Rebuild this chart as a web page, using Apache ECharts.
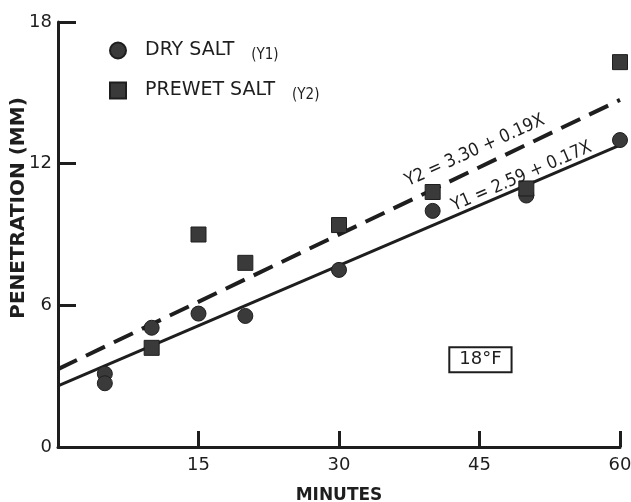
<!DOCTYPE html>
<html><head><meta charset="utf-8">
<script src="https://cdn.jsdelivr.net/npm/echarts@6/dist/echarts.min.js"></script>
<style>html,body{margin:0;padding:0;background:#fff}#c{width:631px;height:502px}</style>
</head><body><div id="c"></div>
<script>
// Data
const dryMinutes = [5, 5, 10, 15, 20, 30, 40, 50, 60];
const dryValues  = [3.1, 2.7, 5.05, 5.65, 5.55, 7.5, 10.0, 10.65, 13.0];
const wetMinutes = [10, 15, 20, 30, 40, 50, 60];
const wetValues  = [4.2, 9.0, 7.8, 9.4, 10.8, 10.95, 16.3];
const dryFitX = [0, 60];
const dryFitY = [2.59, 12.79];
const wetFitX = [0, 60];
const wetFitY = [3.30, 14.70];
const xTicks = [0, 15, 30, 45, 60];
const yTicks = [0, 6, 12, 18];
const seriesNames = ['DRY SALT', 'PREWET SALT'];
const seriesTags = ['(Y1)', '(Y2)'];
const eqDry = 'Y1 = 2.59 + 0.17X';
const eqWet = 'Y2 = 3.30 + 0.19X';
const tempLabel = '18°F';

const zip = (a, b) => a.map((v, i) => [v, b[i]]);
const ink = '#1e1e1e';
const mark = '#3a3a3a';
const font = 'DejaVu Sans';

const chart = echarts.init(document.getElementById('c'), null, {renderer: 'canvas'});
const option = {
  animation: false,
  backgroundColor: '#fff',
  grid: {left: 58, right: 11, top: 22, bottom: 55, containLabel: false, outerBoundsMode: 'none'},
  legend: {
    orient: 'vertical', left: 104, top: 36, itemWidth: 16, itemHeight: 16, itemGap: 18,
    selectedMode: false,
    data: [{name: seriesNames[0], icon: 'circle'}, {name: seriesNames[1], icon: 'rect'}],
    formatter: function (n) {
      const i = seriesNames.indexOf(n);
      return '{s|}{a|' + n + '}{g|}{b|' + seriesTags[i] + '}';
    },
    textStyle: {
      color: ink, fontFamily: font,
      rich: {
        s: {width: 14},
        a: {fontSize: 19, fontFamily: font, color: ink},
        g: {width: 17},
        b: {fontSize: 15, fontFamily: 'DejaVu Sans Condensed', color: ink, padding: [10, 0, 0, 0]}
      }
    }
  },
  xAxis: {
    type: 'value', min: 0, max: 60, interval: 15,
    name: 'MINUTES', nameLocation: 'middle', nameGap: 40,
    nameTextStyle: {fontFamily: font, fontWeight: 'bold', fontSize: 17, color: ink},
    axisLine: {show: true, onZero: false, lineStyle: {color: ink, width: 3}},
    axisTick: {show: true, inside: true, length: 16, lineStyle: {color: ink, width: 3}},
    splitLine: {show: false},
    axisLabel: {fontFamily: font, fontSize: 18, color: ink, margin: 9,
      formatter: v => (v === 0 ? '' : String(v))}
  },
  yAxis: {
    type: 'value', min: 0, max: 18, interval: 6,
    axisLine: {show: true, onZero: false, lineStyle: {color: ink, width: 3}},
    axisTick: {show: true, inside: true, length: 18, lineStyle: {color: ink, width: 3}},
    splitLine: {show: false},
    axisLabel: {fontFamily: font, fontSize: 18, color: ink, margin: 6}
  },
  series: [
    {type: 'line', name: 'fitDry', data: zip(dryFitX, dryFitY), symbol: 'none', z: 2,
      lineStyle: {color: ink, width: 3}},
    {type: 'line', name: 'fitWet', data: zip(wetFitX, wetFitY), symbol: 'none', z: 2,
      lineStyle: {color: ink, width: 4, type: [21, 10]}},
    {type: 'scatter', name: seriesNames[0], data: zip(dryMinutes, dryValues), symbol: 'circle',
      symbolSize: 15, z: 3, itemStyle: {color: mark, borderColor: ink, borderWidth: 1, opacity: 1}},
    {type: 'scatter', name: seriesNames[1], data: zip(wetMinutes, wetValues), symbol: 'rect',
      symbolSize: 15, z: 3, itemStyle: {color: mark, borderColor: ink, borderWidth: 1, opacity: 1}}
  ]
};
chart.setOption(option);

const p = (x, y) => chart.convertToPixel({gridIndex: 0}, [x, y]);
const wetPos = p(44.5, 12.55);
const dryPos = p(49.5, 11.45);
const boxPos = p(45.1, 3.7);
const yTitlePos = [19, 208];
chart.setOption({
  graphic: [
    {type: 'text', x: wetPos[0], y: wetPos[1], rotation: 24.5 * Math.PI / 180, z: 10,
      style: {text: eqWet, font: '18px "DejaVu Sans Condensed"', fill: ink, align: 'center', verticalAlign: 'middle'}},
    {type: 'text', x: dryPos[0], y: dryPos[1], rotation: 23.5 * Math.PI / 180, z: 10,
      style: {text: eqDry, font: '18px "DejaVu Sans Condensed"', fill: ink, align: 'center', verticalAlign: 'middle'}},
    {type: 'text', x: boxPos[0], y: boxPos[1], z: 10,
      style: {text: tempLabel, font: '18px "DejaVu Sans"', fill: ink, align: 'center', verticalAlign: 'middle',
        borderColor: ink, borderWidth: 2, padding: [3, 9, 2, 9], backgroundColor: '#fff'}},
    {type: 'text', x: yTitlePos[0], y: yTitlePos[1], rotation: Math.PI / 2, z: 10,
      style: {text: 'PENETRATION (MM)', font: 'bold 20px "DejaVu Sans"', fill: ink, align: 'center', verticalAlign: 'middle'}}
  ]
});
</script></body></html>
